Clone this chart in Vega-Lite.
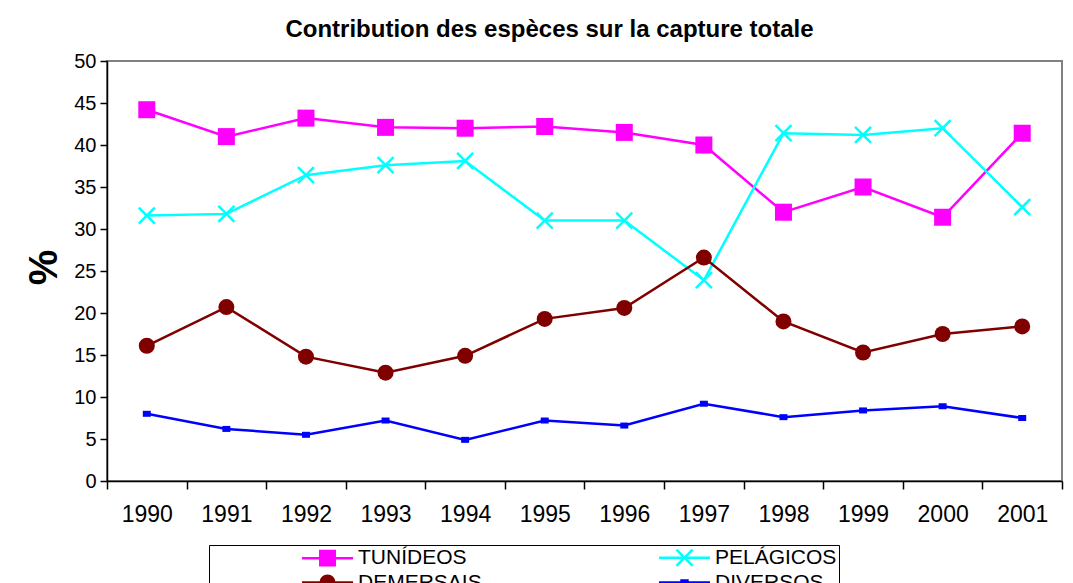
{
  "$schema": "https://vega.github.io/schema/vega-lite/v6.json",
  "width": 955,
  "height": 420,
  "autosize": {"type": "none"},
  "padding": {"left": 107, "top": 61, "right": 11, "bottom": 102},
  "background": "white",
  "title": {
    "text": "Contribution des espèces sur la capture totale",
    "font": "Liberation Sans",
    "fontSize": 24,
    "fontWeight": "bold",
    "color": "black",
    "anchor": "middle",
    "dx": -35,
    "offset": 9
  },
  "config": {
    "view": {"stroke": "#808080", "strokeWidth": 2},
    "axis": {
      "labelFont": "Liberation Sans",
      "titleFont": "Liberation Sans",
      "labelColor": "black",
      "titleColor": "black",
      "domainColor": "black",
      "domainWidth": 1.5,
      "tickColor": "black",
      "tickWidth": 1.5,
      "grid": false
    }
  },
  "data": {
    "values": [
      {"year": "1990", "series": "TUNÍDEOS", "value": 44.2},
      {"year": "1991", "series": "TUNÍDEOS", "value": 41.0},
      {"year": "1992", "series": "TUNÍDEOS", "value": 43.2},
      {"year": "1993", "series": "TUNÍDEOS", "value": 42.1},
      {"year": "1994", "series": "TUNÍDEOS", "value": 42.0},
      {"year": "1995", "series": "TUNÍDEOS", "value": 42.2},
      {"year": "1996", "series": "TUNÍDEOS", "value": 41.5},
      {"year": "1997", "series": "TUNÍDEOS", "value": 40.0},
      {"year": "1998", "series": "TUNÍDEOS", "value": 32.0},
      {"year": "1999", "series": "TUNÍDEOS", "value": 35.0},
      {"year": "2000", "series": "TUNÍDEOS", "value": 31.4},
      {"year": "2001", "series": "TUNÍDEOS", "value": 41.4},
      {"year": "1990", "series": "PELÁGICOS", "value": 31.6},
      {"year": "1991", "series": "PELÁGICOS", "value": 31.8},
      {"year": "1992", "series": "PELÁGICOS", "value": 36.4},
      {"year": "1993", "series": "PELÁGICOS", "value": 37.6},
      {"year": "1994", "series": "PELÁGICOS", "value": 38.1},
      {"year": "1995", "series": "PELÁGICOS", "value": 31.0},
      {"year": "1996", "series": "PELÁGICOS", "value": 31.0},
      {"year": "1997", "series": "PELÁGICOS", "value": 23.9},
      {"year": "1998", "series": "PELÁGICOS", "value": 41.4},
      {"year": "1999", "series": "PELÁGICOS", "value": 41.2},
      {"year": "2000", "series": "PELÁGICOS", "value": 42.0},
      {"year": "2001", "series": "PELÁGICOS", "value": 32.6},
      {"year": "1990", "series": "DEMERSAIS", "value": 16.1},
      {"year": "1991", "series": "DEMERSAIS", "value": 20.7},
      {"year": "1992", "series": "DEMERSAIS", "value": 14.8},
      {"year": "1993", "series": "DEMERSAIS", "value": 12.9},
      {"year": "1994", "series": "DEMERSAIS", "value": 14.9},
      {"year": "1995", "series": "DEMERSAIS", "value": 19.3},
      {"year": "1996", "series": "DEMERSAIS", "value": 20.6},
      {"year": "1997", "series": "DEMERSAIS", "value": 26.6},
      {"year": "1998", "series": "DEMERSAIS", "value": 19.0},
      {"year": "1999", "series": "DEMERSAIS", "value": 15.3},
      {"year": "2000", "series": "DEMERSAIS", "value": 17.5},
      {"year": "2001", "series": "DEMERSAIS", "value": 18.4},
      {"year": "1990", "series": "DIVERSOS", "value": 8.0},
      {"year": "1991", "series": "DIVERSOS", "value": 6.2},
      {"year": "1992", "series": "DIVERSOS", "value": 5.5},
      {"year": "1993", "series": "DIVERSOS", "value": 7.2},
      {"year": "1994", "series": "DIVERSOS", "value": 4.9},
      {"year": "1995", "series": "DIVERSOS", "value": 7.2},
      {"year": "1996", "series": "DIVERSOS", "value": 6.6},
      {"year": "1997", "series": "DIVERSOS", "value": 9.2},
      {"year": "1998", "series": "DIVERSOS", "value": 7.6},
      {"year": "1999", "series": "DIVERSOS", "value": 8.4},
      {"year": "2000", "series": "DIVERSOS", "value": 8.9},
      {"year": "2001", "series": "DIVERSOS", "value": 7.5}
    ]
  },
  "encoding": {
    "x": {
      "field": "year",
      "type": "ordinal",
      "sort": "ascending",
      "scale": {"type": "band", "paddingInner": 0, "paddingOuter": 0},
      "axis": {
        "title": null,
        "labelAngle": 0,
        "labelFontSize": 23,
        "tickBand": "extent",
        "tickSize": 8,
        "labelPadding": 14
      }
    },
    "y": {
      "field": "value",
      "type": "quantitative",
      "scale": {"domain": [0, 50], "nice": false, "zero": true},
      "axis": {
        "title": "%",
        "values": [0, 5, 10, 15, 20, 25, 30, 35, 40, 45, 50],
        "labelFontSize": 20,
        "tickSize": 7,
        "labelPadding": 4,
        "titleFontSize": 40,
        "titleFontWeight": "bold",
        "titleAngle": -90,
        "titleAlign": "center",
        "titleBaseline": "alphabetic",
        "titleX": -51,
        "titleY": 206
      }
    }
  },
  "layer": [
    {
      "mark": {"type": "line", "strokeWidth": 2.5},
      "encoding": {
        "color": {
          "field": "series",
          "type": "nominal",
          "scale": {
            "domain": ["TUNÍDEOS", "PELÁGICOS", "DEMERSAIS", "DIVERSOS"],
            "range": ["#FF00FF", "#00FFFF", "#800000", "#0000FF"]
          },
          "legend": {
            "title": null,
            "orient": "none",
            "legendX": 102,
            "legendY": 484,
            "direction": "horizontal",
            "columns": 2,
            "padding": 2,
            "strokeColor": "black",
            "fillColor": "white",
            "labelFont": "Liberation Sans",
            "labelFontSize": 21,
            "labelColor": "black",
            "labelLimit": 300,
            "symbolSize": 289,
            "symbolOffset": 106,
            "labelOffset": 20,
            "columnPadding": 86,
            "rowPadding": -1,
            "symbolStrokeWidth": 2.5,
            "encode": {
              "symbols": {
                "update": {
                  "shape": {"signal": "datum.value === 'TUNÍDEOS' ? 'M-3,0H3M-0.85,-0.85H0.85V0.85H-0.85Z' : datum.value === 'PELÁGICOS' ? 'M-3,0H3M-0.95,-0.95L0.95,0.95M-0.95,0.95L0.95,-0.95' : datum.value === 'DEMERSAIS' ? 'M-3,0H3M0.8,0A0.8,0.8,0,1,1,-0.8,0A0.8,0.8,0,1,1,0.8,0Z' : 'M-3,0H3M-0.35,-0.25H0.35V0.25H-0.35Z'"},
                  "fill": {"scale": "color", "field": "value"},
                  "stroke": {"scale": "color", "field": "value"},
                  "strokeWidth": {"value": 2.5},
                  "size": {"value": 289},
                  "opacity": {"value": 1}
                }
              },
              "legend": {
                "update": {"width": {"value": 721}}
              }
            }
          }
        }
      }
    },
    {
      "transform": [{"filter": "datum.series === 'TUNÍDEOS'"}],
      "mark": {"type": "point", "filled": true, "shape": "square", "size": 289, "color": "#FF00FF", "opacity": 1}
    },
    {
      "transform": [{"filter": "datum.series === 'PELÁGICOS'"}],
      "mark": {"type": "point", "filled": false, "shape": "M-1,-1L1,1M-1,1L1,-1", "size": 256, "strokeWidth": 2.5, "color": "#00FFFF", "opacity": 1}
    },
    {
      "transform": [{"filter": "datum.series === 'DEMERSAIS'"}],
      "mark": {"type": "point", "filled": true, "shape": "circle", "size": 256, "color": "#800000", "opacity": 1}
    },
    {
      "transform": [{"filter": "datum.series === 'DIVERSOS'"}],
      "mark": {"type": "point", "filled": true, "shape": "M-1,-0.75H1V0.75H-1Z", "size": 64, "color": "#0000FF", "opacity": 1}
    }
  ]
}
